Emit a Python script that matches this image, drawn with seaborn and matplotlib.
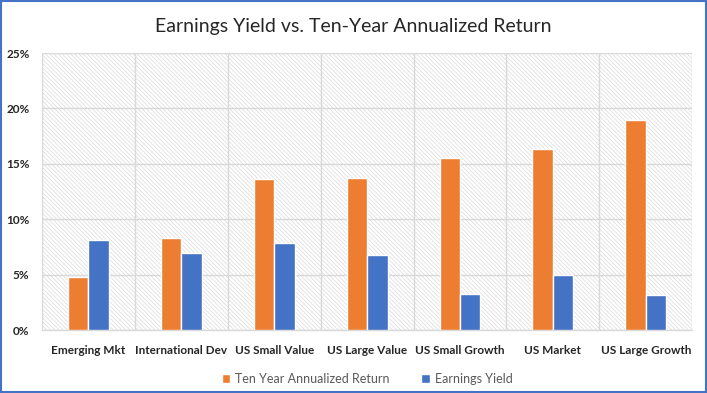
import pandas as pd
import matplotlib.pyplot as plt
import seaborn as sns
from matplotlib.patches import Rectangle
from matplotlib.ticker import PercentFormatter, FixedLocator

# Dados
categorias = ['Emerging Mkt', 'International Dev', 'US Small Value', 'US Large Value',
              'US Small Growth', 'US Market', 'US Large Growth']
retorno_10a = [4.8, 8.3, 13.6, 13.7, 15.5, 16.3, 19.0]
earnings_yield = [8.1, 7.0, 7.9, 6.8, 3.3, 5.0, 3.2]

series = ['Ten Year Annualized Return', 'Earnings Yield']
cores = ['#ED7D31', '#4472C4']

df = pd.DataFrame({
    'categoria': categorias * 2,
    'valor': retorno_10a + earnings_yield,
    'serie': [series[0]] * len(categorias) + [series[1]] * len(categorias),
})

sns.set_style("white")
plt.rcParams['font.family'] = ['Lato', 'DejaVu Sans']
plt.rcParams['hatch.color'] = '#DADADA'
plt.rcParams['hatch.linewidth'] = 0.5

fig = plt.figure(figsize=(7.07, 3.93), dpi=100)
ax = fig.add_axes([0.0594, 0.160, 0.9196, 0.705])

# Fundo hachurado
ax.add_patch(Rectangle((0, 0), 1, 1, transform=ax.transAxes, facecolor='white',
                       edgecolor='#DADADA', hatch='\\' * 8, linewidth=0, zorder=0))

sns.barplot(data=df, x='categoria', y='valor', hue='serie', palette=cores,
            width=0.44, saturation=1, ax=ax, zorder=3)

ax.set_xlim(-0.5, len(categorias) - 0.5)
ax.set_ylim(0, 25)
ax.set_yticks([0, 5, 10, 15, 20, 25])
ax.yaxis.set_major_formatter(PercentFormatter(decimals=0))
ax.xaxis.set_minor_locator(FixedLocator([i - 0.5 for i in range(len(categorias) + 1)]))

ax.grid(axis='y', color='#D9D9D9', linewidth=1, zorder=1)
ax.grid(axis='x', which='minor', color='#D9D9D9', linewidth=1, zorder=1)
ax.set_axisbelow(True)

for s in ['top', 'right', 'left']:
    ax.spines[s].set_visible(False)
ax.spines['bottom'].set_color('#D9D9D9')
ax.spines['bottom'].set_linewidth(1)

ax.tick_params(axis='x', which='major', length=0, pad=11, labelsize=8.5)
ax.tick_params(axis='x', which='minor', length=5, color='#D9D9D9', width=1)
ax.tick_params(axis='y', length=0, pad=9, labelsize=8.5)
for lab in ax.get_xticklabels() + ax.get_yticklabels():
    lab.set_fontweight('bold')
    lab.set_color('#262626')

ax.set_xlabel('')
ax.set_ylabel('')

fig.suptitle('Earnings Yield vs. Ten-Year Annualized Return', y=0.955, fontsize=14, color='#262626')

ax.legend(loc='upper center', bbox_to_anchor=(0.5, -0.115), ncol=2, frameon=False,
          fontsize=9, handlelength=0.7, handleheight=0.7, columnspacing=2.5,
          handletextpad=0.4, labelcolor='#595959')

# Moldura azul
fig.patches.append(Rectangle((0.002, 0.003), 0.996, 0.994, transform=fig.transFigure,
                             fill=False, edgecolor='#4472C4', linewidth=1.5))

plt.savefig('out.png', dpi=100)
